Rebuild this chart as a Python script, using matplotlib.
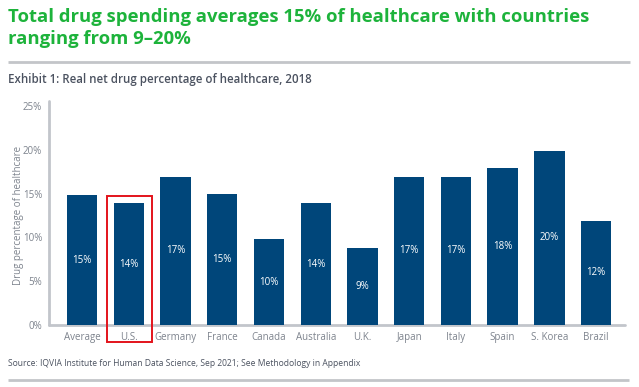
import matplotlib
matplotlib.use("Agg")
import matplotlib.pyplot as plt
from matplotlib.patches import Rectangle
from matplotlib.lines import Line2D

plt.rcParams["font.family"] = ["Open Sans", "DejaVu Sans"]

# ---- data -----------------------------------------------------------------
countries = ["Average", "U.S.", "Germany", "France", "Canada", "Australia",
             "U.K.", "Japan", "Italy", "Spain", "S. Korea", "Brazil"]
drug_pct = [14.8, 13.9, 16.9, 14.9, 9.8, 13.9, 8.8, 16.9, 16.9, 17.9, 19.9, 11.9]
bar_labels = ["15%", "14%", "17%", "15%", "10%", "14%", "9%", "17%", "17%",
              "18%", "20%", "12%"]
yticks = [0, 5, 10, 15, 20, 25]
highlight = "U.S."

title_lines = ["Total drug spending averages 15% of healthcare with countries",
               "ranging from 9\u201320%"]
subtitle = "Exhibit 1: Real net drug percentage of healthcare, 2018"
source = "Source: IQVIA Institute for Human Data Science, Sep 2021; See Methodology in Appendix"

# ---- styling --------------------------------------------------------------
W, H = 639, 387
bar_color = "#00467a"
green = "#1db33b"
axis_gray = "#c2c5cb"
tick_gray = "#7d838d"
text_dark = "#4b5260"


def fy(py):
    """pixel row (from top) -> figure fraction"""
    return 1 - py / H


fig = plt.figure(figsize=(W / 100, H / 100), dpi=100)
fig.patch.set_facecolor("white")

# plot area in pixel terms: x 49..625, y 106..325 (top..bottom)
ax = fig.add_axes([49 / W, fy(325), (625 - 49) / W, (325 - 106) / H])
x = list(range(len(countries)))
bars = ax.bar(x, drug_pct, width=0.65, color=bar_color, zorder=3)

for b, lab in zip(bars, bar_labels):
    ax.text(b.get_x() + b.get_width() / 2, b.get_height() / 2, lab,
            ha="center", va="center", color="white", fontsize=7, zorder=4)

ax.set_xlim(-0.71, len(countries) - 1 + 0.62)
ax.set_ylim(0, 25)
ax.set_yticks(yticks)
ax.set_yticklabels([f"{t}%" for t in yticks])
ax.set_xticks(x)
ax.set_xticklabels(countries)
ax.tick_params(axis="both", length=0, labelsize=7, colors=tick_gray)
ax.tick_params(axis="x", pad=5)
ax.tick_params(axis="y", pad=5)
ax.set_ylabel("Drug percentage of healthcare", color=tick_gray, fontsize=7)
ax.yaxis.set_label_coords(-0.044, 0.5)

for side in ("top", "right"):
    ax.spines[side].set_visible(False)
for side in ("left", "bottom"):
    ax.spines[side].set_color(axis_gray)
    ax.spines[side].set_linewidth(2)
    ax.spines[side].set_capstyle("round")
ax.spines["left"].set_bounds(0, 25.6)

# red box around the highlighted country
hi = countries.index(highlight)
ax.add_patch(Rectangle((hi - 0.47, -1.95), 0.96, drug_pct[hi] + 0.8 + 1.95,
                       fill=False, edgecolor="#e3131b", lw=1.4,
                       clip_on=False, zorder=5))

# ---- titles, rules, source ----------------------------------------------
fig.text(8 / W, fy(22), title_lines[0], ha="left", va="baseline", color=green,
         fontsize=13.3, fontweight="bold")
fig.text(8 / W, fy(44), title_lines[1], ha="left", va="baseline", color=green,
         fontsize=13.3, fontweight="bold")
fig.add_artist(Line2D([8 / W, 630 / W], [fy(62)] * 2, color="#c3c5c9",
                      lw=2, solid_capstyle="butt"))
fig.text(8 / W, fy(80), subtitle, ha="left", va="center", color=text_dark,
         fontsize=8.3, fontweight="semibold")
fig.text(8 / W, fy(364), source, ha="left", va="center", color=text_dark,
         fontsize=6.15)
fig.add_artist(Line2D([8 / W, 629 / W], [fy(380)] * 2, color="#c3c5c9",
                      lw=2, solid_capstyle="butt"))

fig.savefig("out.png", dpi=100, facecolor="white")
